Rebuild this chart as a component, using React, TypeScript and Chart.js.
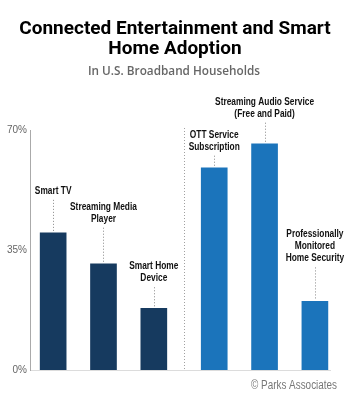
import { useEffect, useRef } from "react";
import { Chart, registerables } from "chart.js";

Chart.register(...registerables);

// ---- data ----
const categories = [
  "Smart TV",
  "Streaming Media Player",
  "Smart Home Device",
  "OTT Service Subscription",
  "Streaming Audio Service (Free and Paid)",
  "Professionally Monitored Home Security",
];
const labelLines = [
  ["Smart TV"],
  ["Streaming Media", "Player"],
  ["Smart Home", "Device"],
  ["OTT Service", "Subscription"],
  ["Streaming Audio Service", "(Free and Paid)"],
  ["Professionally", "Monitored", "Home Security"],
];
const values = [40, 31, 18, 59, 66, 20];
const groups = [0, 0, 0, 1, 1, 1];
const yTicks = [0, 35, 70];
const titleLines = ["Connected Entertainment and Smart", "Home Adoption"];
const subtitle = "In U.S. Broadband Households";
const source = "© Parks Associates";

// ---- styling / layout ----
const groupColors = ["#163a5f", "#1b74bb"];
const GROUP_GAP = 0.2;
const labelGap = [42, 45, 30, 21, 30, 43];
const LABEL_FONT = "bold 11px 'Liberation Sans', sans-serif";
const LABEL_SQUEEZE = 0.76;
const positions = categories.map((_, i) => i + groups[i] * GROUP_GAP);

const annotatePlugin = {
  id: "annotate",
  afterDatasetsDraw(chart: any) {
    const ctx = chart.ctx;
    const meta = chart.getDatasetMeta(0);
    const xs = chart.scales.x;
    const area = chart.chartArea;
    ctx.save();
    // group separator
    const sepX = Math.round(xs.getPixelForValue((positions[2] + positions[3]) / 2)) + 0.5;
    ctx.strokeStyle = "#a0a0a0";
    ctx.lineWidth = 1;
    ctx.setLineDash([1, 2]);
    ctx.beginPath();
    ctx.moveTo(sepX, area.top - 2);
    ctx.lineTo(sepX, area.bottom);
    ctx.stroke();

    meta.data.forEach((el: any, i: number) => {
      const x = el.x;
      const top = el.y;
      const lines = labelLines[i];
      const lastY = top - labelGap[i];
      ctx.fillStyle = "#111";
      ctx.font = LABEL_FONT;
      ctx.textAlign = "center";
      ctx.textBaseline = "middle";
      lines.forEach((ln, k) => {
        const w = ctx.measureText(ln).width * LABEL_SQUEEZE;
        ctx.fillText(ln, x, lastY - (lines.length - 1 - k) * 12, w);
      });
      const lx = Math.round(x) + 0.5;
      ctx.strokeStyle = "#888";
      ctx.setLineDash([1, 2]);
      ctx.beginPath();
      ctx.moveTo(lx, lastY + 9);
      ctx.lineTo(lx, top - 2);
      ctx.stroke();
    });
    ctx.restore();
  },
};

const headerPlugin = {
  id: "header",
  afterDraw(chart: any) {
    const ctx = chart.ctx;
    ctx.save();
    ctx.textAlign = "center";
    ctx.textBaseline = "alphabetic";
    ctx.fillStyle = "#000";
    ctx.font = "bold 19px Roboto, sans-serif";
    ctx.fillText(titleLines[0], 175, 34);
    ctx.fillText(titleLines[1], 175, 53.5);
    ctx.fillStyle = "#666";
    ctx.font = "600 13px 'Open Sans', sans-serif";
    ctx.fillText(subtitle, 174, 75, 172);
    ctx.textAlign = "right";
    ctx.fillStyle = "#777";
    ctx.font = "12px 'Liberation Sans', sans-serif";
    ctx.fillText(source, 337, 389, 86);
    ctx.restore();
  },
};

export default function App() {
  const ref = useRef<HTMLCanvasElement>(null);
  useEffect(() => {
    if (!ref.current) return;
    const chart = new Chart(ref.current, {
      type: "bar",
      data: {
        labels: categories,
        datasets: [
          {
            data: values.map((v, i) => ({ x: positions[i], y: v })),
            backgroundColor: groups.map((g) => groupColors[g]),
            barThickness: 26,
          },
        ],
      },
      options: {
        animation: false,
        responsive: false,
        layout: { padding: { top: 130, right: 20, left: 0, bottom: 0 } },
        plugins: { legend: { display: false }, tooltip: { enabled: false } },
        scales: {
          x: {
            type: "linear",
            min: -0.46,
            max: 5.5,
            offset: false,
            ticks: { display: false },
            grid: { display: false, drawTicks: false },
            border: { display: true, color: "#dcdcdc", width: 1 },
            afterFit: (s: any) => {
              s.height = 30;
            },
          },
          y: {
            min: 0,
            max: 70,
            afterBuildTicks: (s: any) => {
              s.ticks = yTicks.map((v) => ({ value: v }));
            },
            ticks: {
              padding: 3,
              color: "#666",
              font: { family: "'Liberation Sans', sans-serif", size: 10 },
              callback: (v: any) => v + "%",
            },
            grid: { display: false, drawTicks: false },
            border: { display: true, color: "#aaa", width: 1, dash: [1, 2] },
            afterFit: (s: any) => {
              s.width = 30;
            },
          },
        },
      },
      plugins: [annotatePlugin, headerPlugin],
    });
    return () => chart.destroy();
  }, []);
  return (
    <div style={{ position: "absolute", left: 0, top: 0, width: 350, height: 400 }}>
      <canvas ref={ref} width={350} height={400} />
    </div>
  );
}
